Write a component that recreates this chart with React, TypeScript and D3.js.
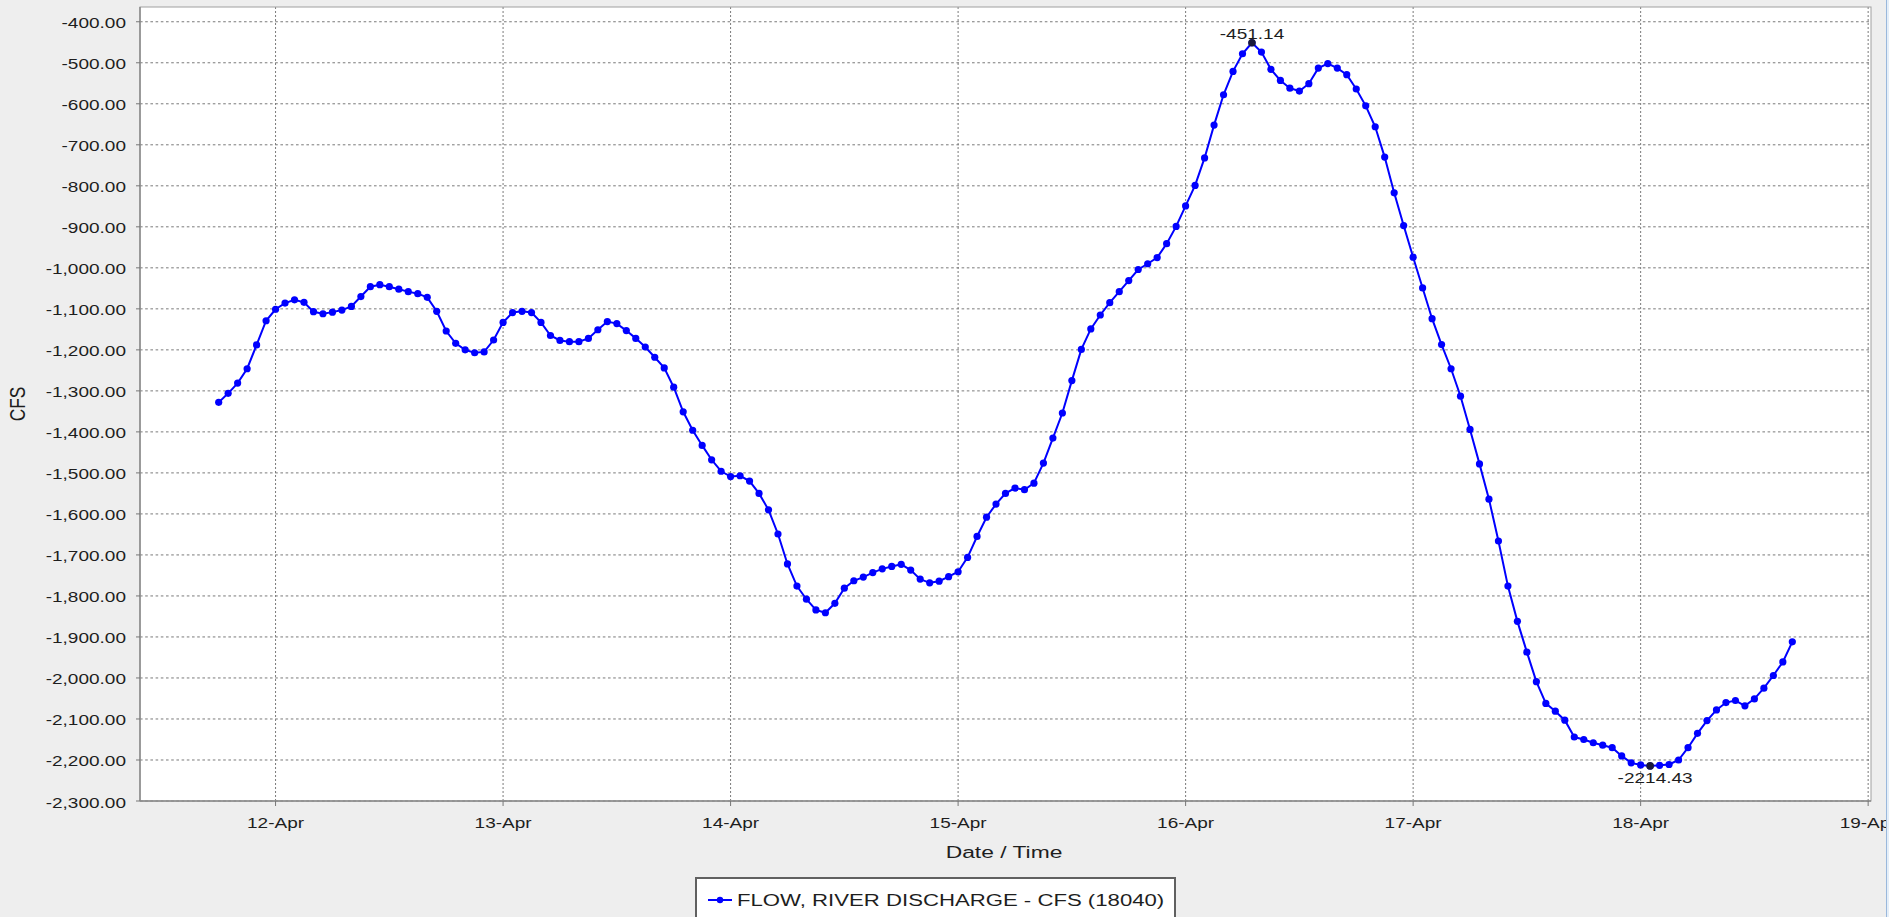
import React from "react";
import * as d3 from "d3";

// hourly flow readings, one array per day (CFS)
const apr11 = [-1328, -1306, -1281, -1246, -1188, -1129]; // from 18:00
const apr12 = [
	-1101, -1086, -1078, -1084, -1107, -1112, -1108, -1103, -1094, -1070, -1046, -1041,
	-1046, -1052, -1058, -1063, -1072, -1106, -1154, -1184, -1200, -1207, -1205, -1176,
];
const apr13 = [
	-1133, -1109, -1106, -1109, -1133, -1165, -1177, -1180, -1180, -1172, -1151, -1131,
	-1136, -1153, -1172, -1193, -1218, -1244, -1291, -1351, -1396, -1433, -1468, -1496,
];
const apr14 = [
	-1509, -1507, -1520, -1550, -1590, -1649, -1722, -1776, -1808, -1834, -1841, -1818,
	-1781, -1763, -1754, -1743, -1734, -1728, -1723, -1737, -1759, -1768, -1764, -1753,
];
const apr15 = [
	-1741, -1706, -1655, -1608, -1576, -1550, -1537, -1541, -1525, -1476, -1415, -1354,
	-1275, -1199, -1149, -1115, -1085, -1058, -1031, -1004, -990, -975, -941, -899,
];
const apr16 = [
	-849, -799, -732, -652, -578, -521, -478, -451.14, -474, -516, -543, -562,
	-569, -551, -513, -502, -513, -529, -564, -605, -656, -730, -817, -897,
];
const apr17 = [
	-974, -1049, -1124, -1187, -1246, -1313, -1394, -1478, -1564, -1666, -1776, -1862,
	-1937, -2009, -2062, -2081, -2103, -2144, -2150, -2158, -2164, -2170, -2190, -2207,
];
const apr18 = [
	-2212, -2214.43, -2213, -2211, -2200, -2170, -2135, -2104, -2078, -2060, -2055, -2068,
	-2051, -2025, -1994, -1961, -1912,
]; // to 16:00

const firstReading = Date.UTC(2019, 3, 11, 18);
const yTicks = d3.range(-400, -2301, -100);
const seriesName = "FLOW, RIVER DISCHARGE - CFS (18040)";
const xTitle = "Date / Time";
const yTitle = "CFS";

const W = 1889,
	H = 917;
const plot = { left: 140, top: 7, right: 1871, bottom: 801 };
const SX = 1.32; // the screenshot is stretched horizontally
const FONT = "'Liberation Sans', Arial, sans-serif";
const HOUR = 3600 * 1000;

const fmtTick = d3
	.formatLocale({ decimal: ".", thousands: ",", grouping: [3], currency: ["$", ""], minus: "-" })
	.format(",.2f");
const fmtDay = d3.utcFormat("%d-%b");

function Label({ x, y, size = 14.4, anchor = "middle", rotate = false, children }) {
	return (
		<text
			transform={`translate(${x},${y}) scale(${SX},1)${rotate ? " rotate(-90)" : ""}`}
			fontSize={size}
			fontFamily={FONT}
			textAnchor={anchor}
			fill="#1e1e1e"
		>
			{children}
		</text>
	);
}

export default function App() {
	const values = [...apr11, ...apr12, ...apr13, ...apr14, ...apr15, ...apr16, ...apr17, ...apr18];
	const data = values.map((v, i) => ({ date: new Date(firstReading + i * HOUR), value: v }));

	const first = data[0].date.getTime();
	const last = data[data.length - 1].date.getTime();
	const pad = (last - first) * 0.05;

	const x = d3
		.scaleUtc()
		.domain([new Date(first - pad), new Date(last + pad)])
		.range([plot.left, plot.right]);
	const y = d3.scaleLinear().domain([-2300, -364]).range([plot.bottom, plot.top]);

	const days = d3.utcDay.range(new Date(Date.UTC(2019, 3, 12)), new Date(Date.UTC(2019, 3, 19, 1)));

	const line = d3
		.line<{ date: Date; value: number }>()
		.x((d) => x(d.date))
		.y((d) => y(d.value));

	const maxPt = data[d3.maxIndex(data, (d) => d.value)];
	const minPt = data[d3.minIndex(data, (d) => d.value)];

	return (
		<svg width={W} height={H} style={{ position: "fixed", left: 0, top: 0 }}>
			<rect width={W} height={H} fill="#eeeeee" />
			<rect
				x={plot.left}
				y={plot.top}
				width={plot.right - plot.left}
				height={plot.bottom - plot.top}
				fill="#ffffff"
			/>

			{/* grid */}
			{yTicks.map((t) => (
				<line
					key={"gy" + t}
					x1={plot.left}
					x2={plot.right}
					y1={y(t)}
					y2={y(t)}
					stroke="#7a7a7a"
					strokeDasharray="2.6,2.6"
				/>
			))}
			{days.map((d) => (
				<line
					key={"gx" + d.getTime()}
					x1={x(d)}
					x2={x(d)}
					y1={plot.top}
					y2={plot.bottom}
					stroke="#7a7a7a"
					strokeDasharray="2,2"
				/>
			))}

			{/* plot outline / axes */}
			<rect
				x={plot.left}
				y={plot.top}
				width={plot.right - plot.left}
				height={plot.bottom - plot.top}
				fill="none"
				stroke="#a0a0a0"
			/>
			<line x1={plot.left} x2={plot.left} y1={plot.top} y2={plot.bottom} stroke="#8a8a8a" strokeWidth={1.5} />
			<line x1={plot.left} x2={plot.right} y1={plot.bottom} y2={plot.bottom} stroke="#8a8a8a" strokeWidth={1.5} />

			{yTicks.map((t) => (
				<g key={"ty" + t}>
					<line x1={plot.left - 4} x2={plot.left} y1={y(t)} y2={y(t)} stroke="#777" />
					<Label x={126} y={y(t) + 6.5} anchor="end">
						{fmtTick(t)}
					</Label>
				</g>
			))}
			{days.map((d) => (
				<g key={"tx" + d.getTime()}>
					<line x1={x(d)} x2={x(d)} y1={plot.bottom} y2={plot.bottom + 5} stroke="#777" />
					<Label x={x(d)} y={828}>
						{fmtDay(d)}
					</Label>
				</g>
			))}

			<Label x={1004} y={858} size={17.3}>
				{xTitle}
			</Label>
			<Label x={25} y={(plot.top + plot.bottom) / 2} size={17.3} rotate>
				{yTitle}
			</Label>

			{/* series */}
			<path d={line(data) ?? ""} fill="none" stroke="#0000ff" strokeWidth={2} />
			{data.map((d, i) => (
				<circle key={i} cx={x(d.date)} cy={y(d.value)} r={3.6} fill="#0000ff" />
			))}

			{/* max / min annotations */}
			<circle cx={x(maxPt.date)} cy={y(maxPt.value)} r={3.8} fill="#1a1a3a" />
			<Label x={x(maxPt.date)} y={y(maxPt.value) - 4}>
				{maxPt.value.toFixed(2)}
			</Label>
			<circle cx={x(minPt.date)} cy={y(minPt.value)} r={3.8} fill="#1a1a3a" />
			<Label x={x(minPt.date) + 5} y={y(minPt.value) + 17.5}>
				{minPt.value.toFixed(2)}
			</Label>

			{/* legend */}
			<rect x={696} y={878} width={479} height={50} fill="#ffffff" stroke="#606060" strokeWidth={2} />
			<line x1={708} x2={732} y1={900} y2={900} stroke="#0000ff" strokeWidth={2} />
			<circle cx={720} cy={900} r={3.2} fill="#0000ff" />
			<Label x={737} y={906} size={16.8} anchor="start">
				{seriesName}
			</Label>

			{/* window edge */}
			<line x1={1886.5} x2={1886.5} y1={0} y2={H} stroke="#9ab8dc" />
			<rect x={1887} y={0} width={2} height={H} fill="#e4eef8" />
		</svg>
	);
}
